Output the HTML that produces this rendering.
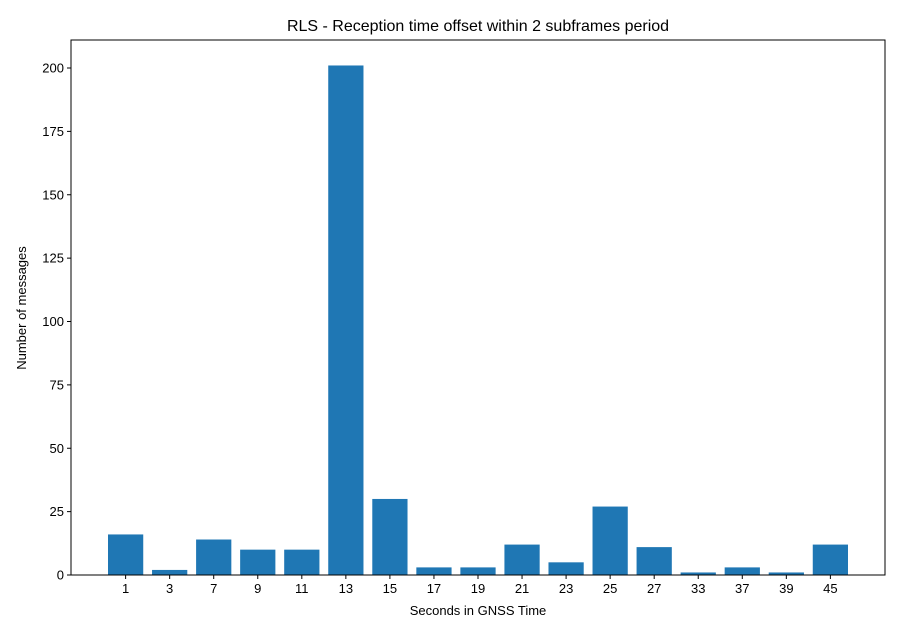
<!DOCTYPE html>
<html><head><meta charset="utf-8"><style>
body{margin:0;background:#fff;font-family:"Liberation Sans","DejaVu Sans",sans-serif;}
</style></head><body>
<svg width="900" height="637" xmlns="http://www.w3.org/2000/svg" id="chart">
<rect width="900" height="637" fill="#fff"/>
<text x="478" y="31" text-anchor="middle" font-size="16">RLS - Reception time offset within 2 subframes period</text>
<g id="bars"></g>
<g id="axes"></g>
<rect x="71" y="40" width="814" height="535" fill="none" stroke="#000" stroke-width="1"/>
<text x="478" y="615" text-anchor="middle" font-size="13">Seconds in GNSS Time</text>
<text transform="translate(26,308) rotate(-90)" text-anchor="middle" font-size="13">Number of messages</text>
</svg>
<script>
const categories=["1","3","7","9","11","13","15","17","19","21","23","25","27","33","37","39","45"];
const values=[16,2,14,10,10,201,30,3,3,12,5,27,11,1,3,1,12];
const yTicks=[0,25,50,75,100,125,150,175,200];
const NS="http://www.w3.org/2000/svg";
const L=71,R=885,T=40,B=575;
const n=categories.length;
const xmin=-0.4-0.05*(n-1+0.8),xmax=n-1+0.4+0.05*(n-1+0.8);
const ymax=Math.max(...values)*1.05;
function xs(i){return L+(i-xmin)/(xmax-xmin)*(R-L);}
function ys(v){return B-v/ymax*(B-T);}
const bars=document.getElementById('bars'),axes=document.getElementById('axes');
function mk(t,a,p){const e=document.createElementNS(NS,t);for(const k in a)e.setAttribute(k,a[k]);p.appendChild(e);return e;}
values.forEach((v,i)=>{
 const r=mk('rect',{x:xs(i-0.4),y:ys(v),width:xs(0.4)-xs(-0.4),height:B-ys(v),fill:'#1f77b4'},bars);
 
 
 const t=mk('line',{x1:xs(i),x2:xs(i),y1:B,y2:B+4,stroke:'#000'},axes);
 
 
 const l=mk('text',{x:xs(i),y:B+18,'text-anchor':'middle','font-size':'13'},axes);
 l.textContent=categories[i];
 
 
});
yTicks.forEach(v=>{
 const t=mk('line',{x1:L-4,x2:L,y1:ys(v),y2:ys(v),stroke:'#000'},axes);
 
 
 const l=mk('text',{x:L-7,y:ys(v)+4.5,'text-anchor':'end','font-size':'13'},axes);
 l.textContent=v;
 
 
});
</script>
</body></html>
